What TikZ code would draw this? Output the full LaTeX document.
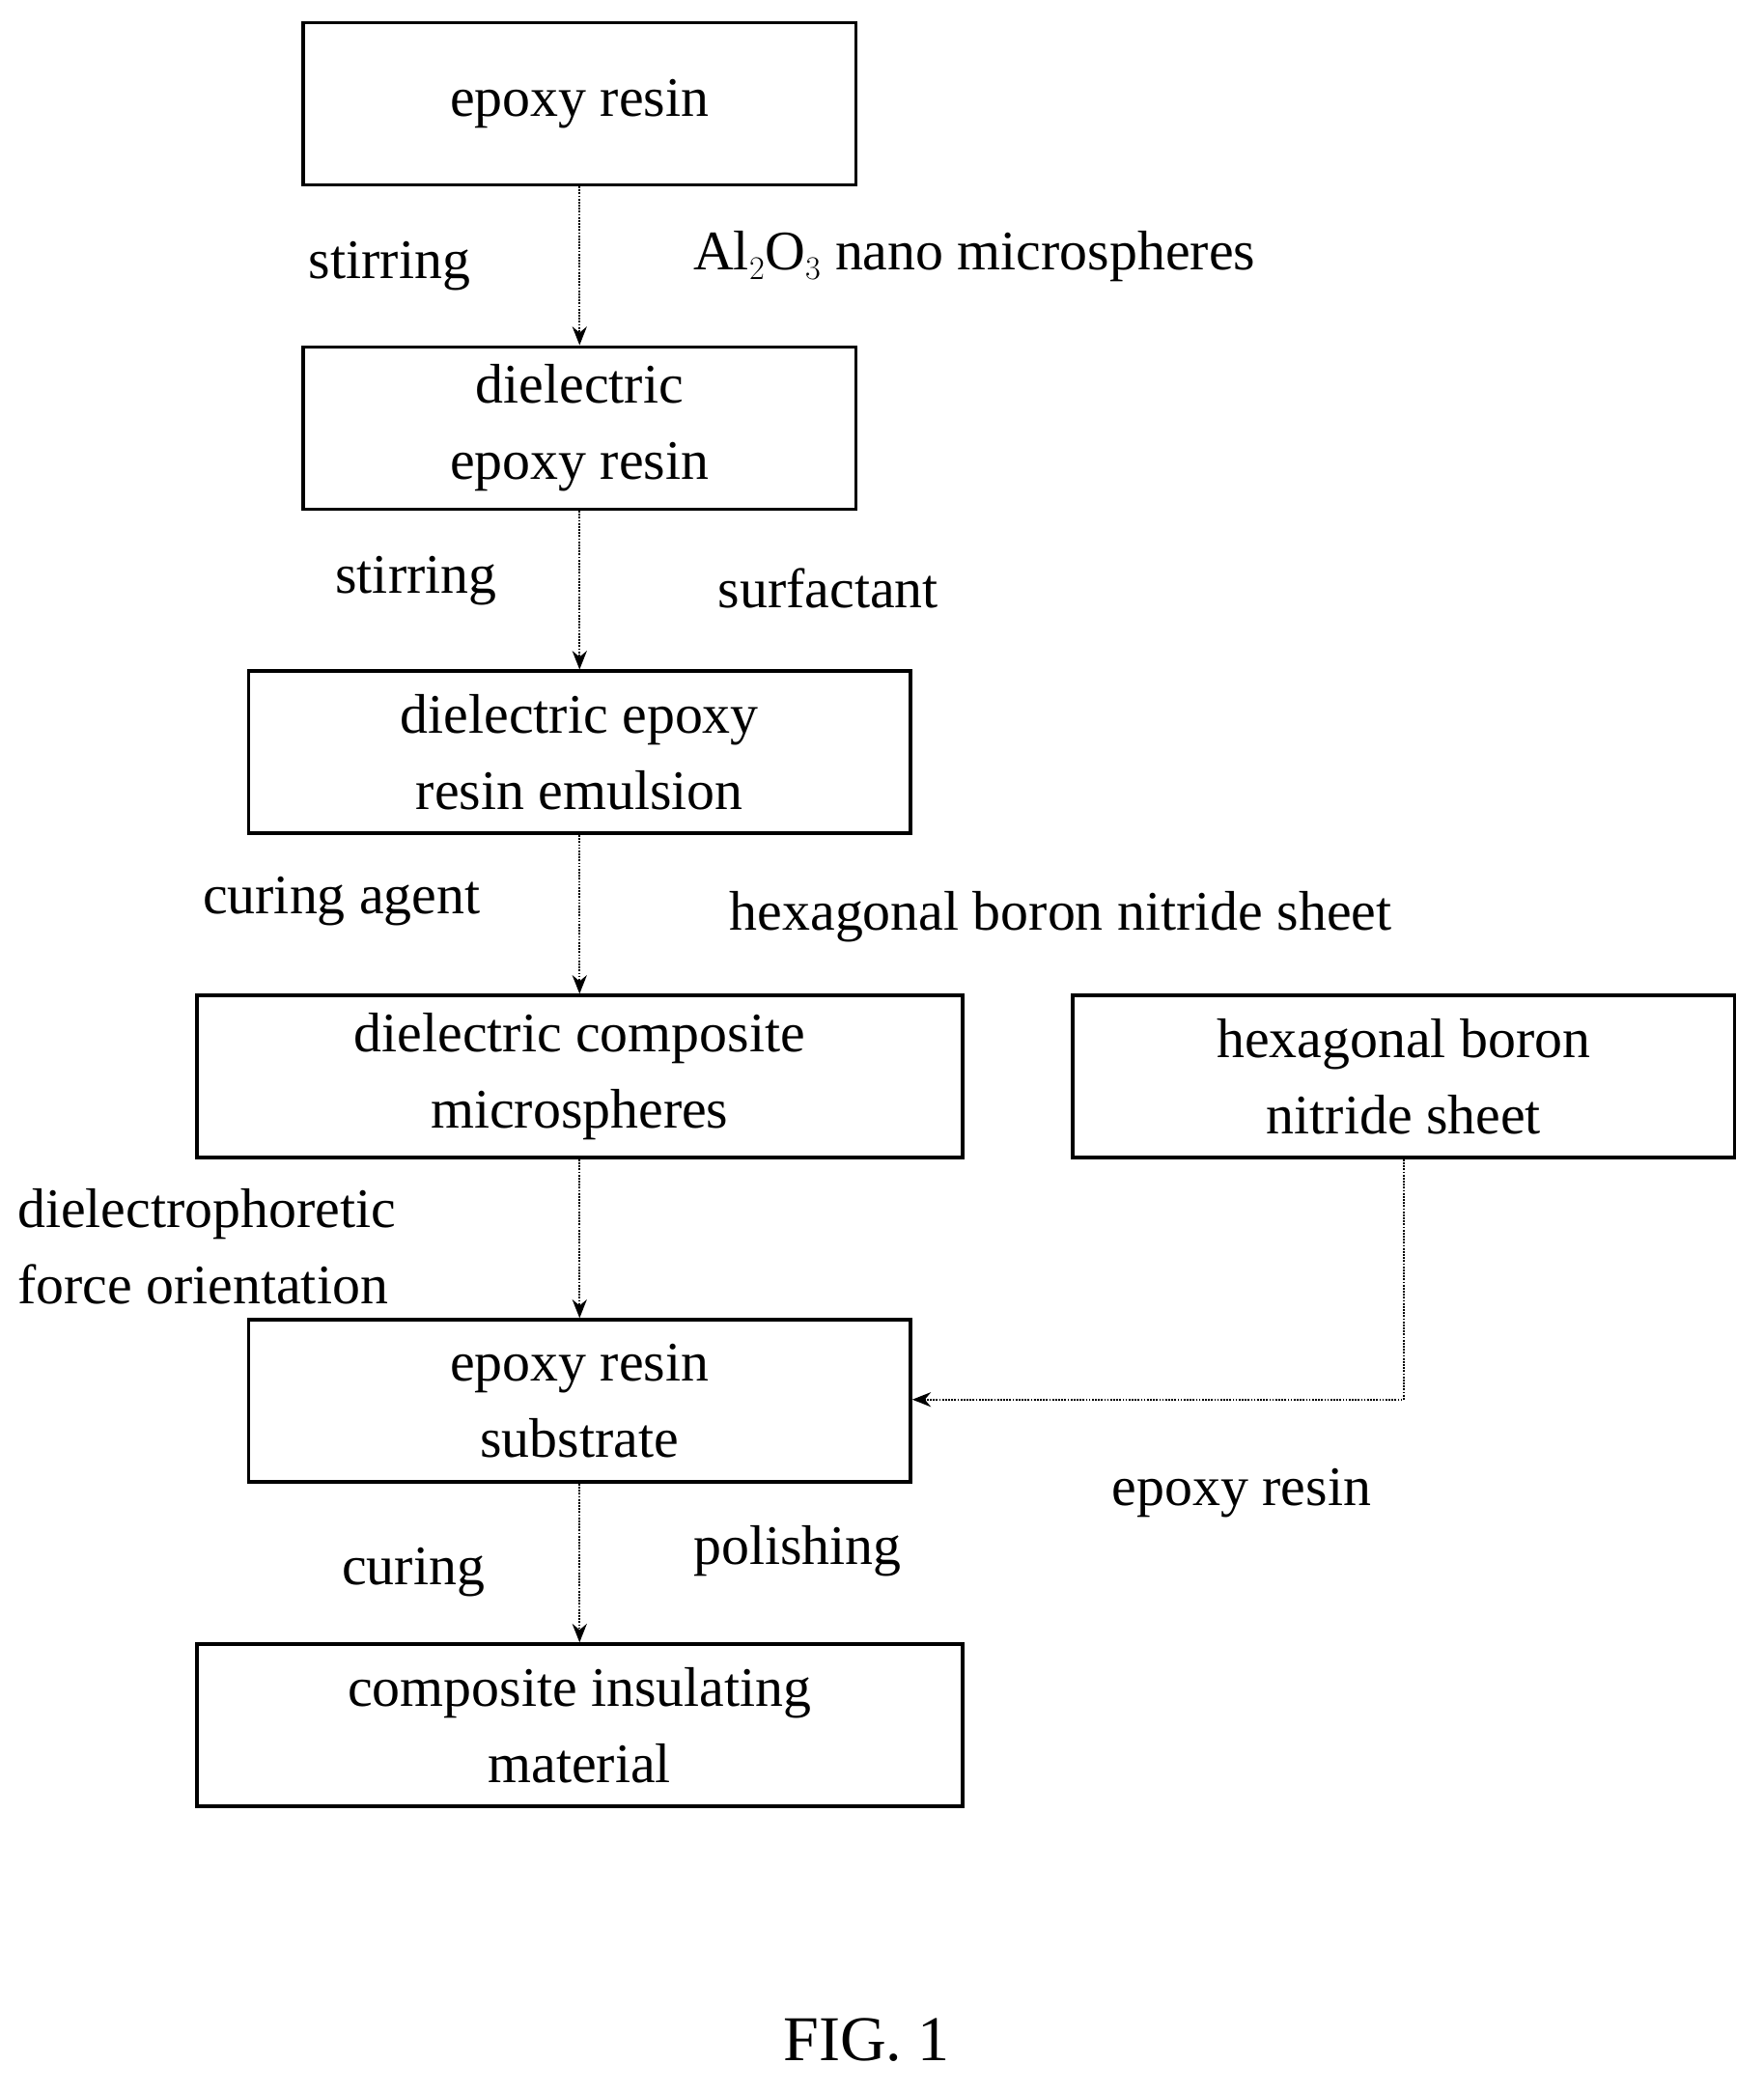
\documentclass[tikz,border=0pt]{standalone}
\usepackage{fontspec}
\setmainfont{Liberation Serif}
\usetikzlibrary{positioning,arrows.meta}

\tikzset{
  stage/.style={draw, line width=2.6pt, minimum height=122pt, align=center,
    font=\fontsize{42}{57}\selectfont, inner sep=0pt},
  note/.style={font=\fontsize{42}{57}\selectfont, align=left, inner sep=0pt},
  flow/.style={line width=1.3pt, densely dotted, -{Stealth[length=14pt,width=11pt]}}
}

\begin{document}
\begin{tikzpicture}[x=1pt,y=-1pt]
\useasboundingbox (0,0) rectangle (1327,1574);

% main chain
\node[stage, minimum width=416pt] (resin)    at (436,78)   {epoxy resin};
\node[stage, minimum width=416pt] (dielres)  at (436,322)  {dielectric\\epoxy resin};
\node[stage, minimum width=498pt] (emulsion) at (436,566)  {dielectric epoxy\\resin emulsion};
\node[stage, minimum width=576pt] (spheres)  at (436,810)  {dielectric composite\\microspheres};
\node[stage, minimum width=498pt] (subst)    at (436,1054) {epoxy resin\\substrate};
\node[stage, minimum width=576pt] (material) at (436,1298) {composite insulating\\material};

% side branch
\node[stage, minimum width=498pt] (hbn) at (1056,810) {hexagonal boron\\nitride sheet};
\coordinate (turn) at (1056,1053);

\draw[flow] (resin) -- (dielres);
\draw[flow] (dielres) -- (emulsion);
\draw[flow] (emulsion) -- (spheres);
\draw[flow] (spheres) -- (subst);
\draw[flow] (subst) -- (material);
\draw[flow] (hbn) -- (turn) -- (subst.east |- turn);

% labels
\node[note] (l1) at (293,200) {stirring};
\node[note] (l2) at (733,193) {Al$_2$O$_3$ nano microspheres};
\node[note] (l3) at (313,437) {stirring};
\node[note] (l4) at (623,443) {surfactant};
\node[note] (l5) at (257,678) {curing agent};
\node[note] (l6) at (798,690) {hexagonal boron nitride sheet};
\node[note, anchor=west] (l7) at (13,938) {dielectrophoretic\\force orientation};
\node[note] (l8) at (934,1123) {epoxy resin};
\node[note] (l9) at (311,1183) {curing};
\node[note] (l10) at (600,1167) {polishing};
\node[note, font=\fontsize{48}{58}\selectfont] (fig) at (652,1535) {FIG. 1};
\end{tikzpicture}
\end{document}
